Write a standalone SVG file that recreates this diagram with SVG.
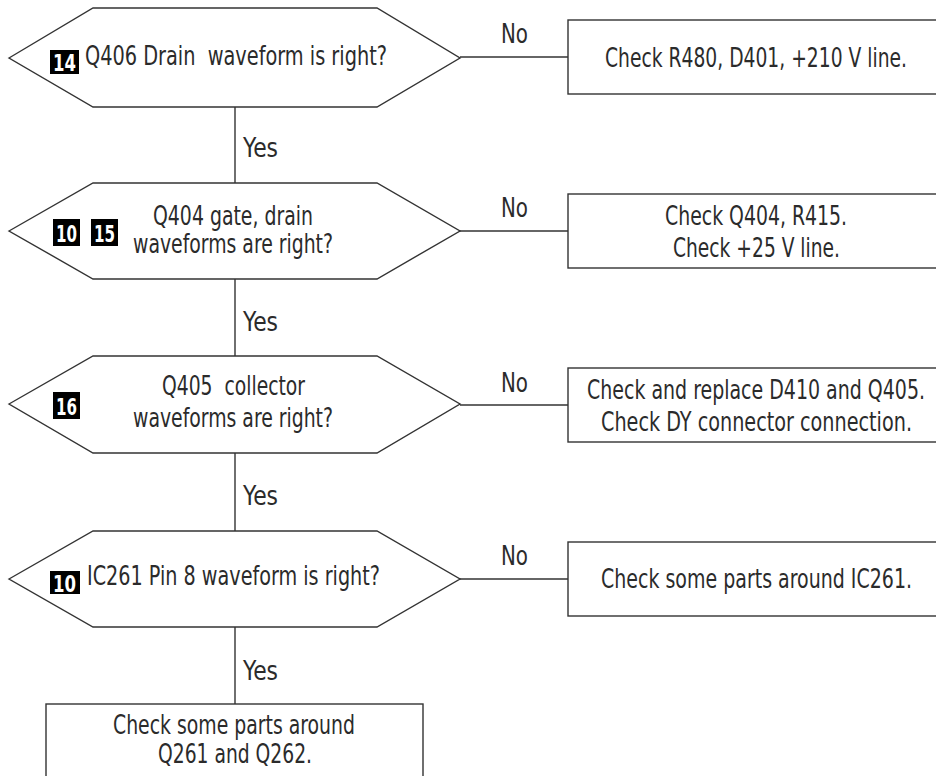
<svg xmlns="http://www.w3.org/2000/svg" width="936" height="776" viewBox="0 0 936 776">
<style>
.s{fill:#fff;stroke:#333;stroke-width:1.4}
.c{fill:none;stroke:#333;stroke-width:1.4}
.t{font-family:"Liberation Sans Narrow","DejaVu Sans Condensed","Liberation Sans",sans-serif;font-size:26px;fill:#2b2b2b}
.b{fill:#000}
.bt{font-family:"Liberation Sans Narrow","DejaVu Sans Condensed","Liberation Sans",sans-serif;font-weight:bold;font-size:23px;fill:#fff}
</style>
<rect width="936" height="776" fill="#fff"/>
<g id="connectors">
<line class="c" x1="235" y1="107" x2="235" y2="183"/>
<line class="c" x1="235" y1="279" x2="235" y2="356"/>
<line class="c" x1="235" y1="453" x2="235" y2="531"/>
<line class="c" x1="235" y1="627" x2="235" y2="704"/>
<line class="c" x1="460" y1="57" x2="568" y2="57"/>
<line class="c" x1="460" y1="231" x2="568" y2="231"/>
<line class="c" x1="460" y1="405" x2="568" y2="405"/>
<line class="c" x1="460" y1="579" x2="568" y2="579"/>
<text class="t" x="243" y="157" textLength="35" lengthAdjust="spacingAndGlyphs">Yes</text>
<text class="t" x="243" y="331" textLength="35" lengthAdjust="spacingAndGlyphs">Yes</text>
<text class="t" x="243" y="505" textLength="35" lengthAdjust="spacingAndGlyphs">Yes</text>
<text class="t" x="243" y="680" textLength="35" lengthAdjust="spacingAndGlyphs">Yes</text>
<text class="t" x="501" y="43" textLength="27" lengthAdjust="spacingAndGlyphs">No</text>
<text class="t" x="501" y="217" textLength="27" lengthAdjust="spacingAndGlyphs">No</text>
<text class="t" x="501" y="392" textLength="27" lengthAdjust="spacingAndGlyphs">No</text>
<text class="t" x="501" y="565" textLength="27" lengthAdjust="spacingAndGlyphs">No</text>
</g>
<g id="d1">
<polygon class="s" points="9,58 93,8 377,8 460,58 377,107 93,107"/>
<rect class="b" x="50" y="50" width="29" height="24"/>
<text class="bt" x="53" y="71" textLength="23" lengthAdjust="spacingAndGlyphs">14</text>
<text class="t" x="85" y="65" textLength="302" lengthAdjust="spacingAndGlyphs" xml:space="preserve">Q406 Drain  waveform is right?</text>
</g>
<g id="d2">
<polygon class="s" points="9,231 93,183 377,183 460,231 377,279 93,279"/>
<rect class="b" x="53" y="219" width="27" height="27"/>
<text class="bt" x="56" y="242" textLength="21" lengthAdjust="spacingAndGlyphs">10</text>
<rect class="b" x="91" y="219" width="27" height="27"/>
<text class="bt" x="94" y="242" textLength="21" lengthAdjust="spacingAndGlyphs">15</text>
<text class="t" x="153" y="225" textLength="160" lengthAdjust="spacingAndGlyphs">Q404 gate, drain</text>
<text class="t" x="133" y="253" textLength="200" lengthAdjust="spacingAndGlyphs">waveforms are right?</text>
</g>
<g id="d3">
<polygon class="s" points="9,404 93,356 377,356 460,404 377,453 93,453"/>
<rect class="b" x="53" y="392" width="27" height="27"/>
<text class="bt" x="56" y="415" textLength="21" lengthAdjust="spacingAndGlyphs">16</text>
<text class="t" x="162" y="395" textLength="143" lengthAdjust="spacingAndGlyphs" xml:space="preserve">Q405  collector</text>
<text class="t" x="133" y="427" textLength="200" lengthAdjust="spacingAndGlyphs">waveforms are right?</text>
</g>
<g id="d4">
<polygon class="s" points="9,579 93,531 377,531 460,579 377,627 93,627"/>
<rect class="b" x="50" y="571" width="30" height="23"/>
<text class="bt" x="53" y="592" textLength="23" lengthAdjust="spacingAndGlyphs">10</text>
<text class="t" x="87" y="585" textLength="293" lengthAdjust="spacingAndGlyphs">IC261 Pin 8 waveform is right?</text>
</g>
<g id="r1">
<rect class="s" x="568" y="20" width="370" height="74"/>
<text class="t" x="605" y="67" textLength="302" lengthAdjust="spacingAndGlyphs">Check R480, D401, +210 V line.</text>
</g>
<g id="r2">
<rect class="s" x="568" y="194" width="370" height="74"/>
<text class="t" x="665" y="225" textLength="182" lengthAdjust="spacingAndGlyphs">Check Q404, R415.</text>
<text class="t" x="673" y="257" textLength="167" lengthAdjust="spacingAndGlyphs">Check +25 V line.</text>
</g>
<g id="r3">
<rect class="s" x="568" y="368" width="370" height="74"/>
<text class="t" x="587" y="399" textLength="338" lengthAdjust="spacingAndGlyphs">Check and replace D410 and Q405.</text>
<text class="t" x="601" y="431" textLength="311" lengthAdjust="spacingAndGlyphs">Check DY connector connection.</text>
</g>
<g id="r4">
<rect class="s" x="568" y="542" width="370" height="74"/>
<text class="t" x="601" y="588" textLength="311" lengthAdjust="spacingAndGlyphs">Check some parts around IC261.</text>
</g>
<g id="end">
<rect class="s" x="46" y="704" width="377" height="90"/>
<text class="t" x="113" y="734" textLength="242" lengthAdjust="spacingAndGlyphs">Check some parts around</text>
<text class="t" x="158" y="763" textLength="154" lengthAdjust="spacingAndGlyphs">Q261 and Q262.</text>
</g>
</svg>
